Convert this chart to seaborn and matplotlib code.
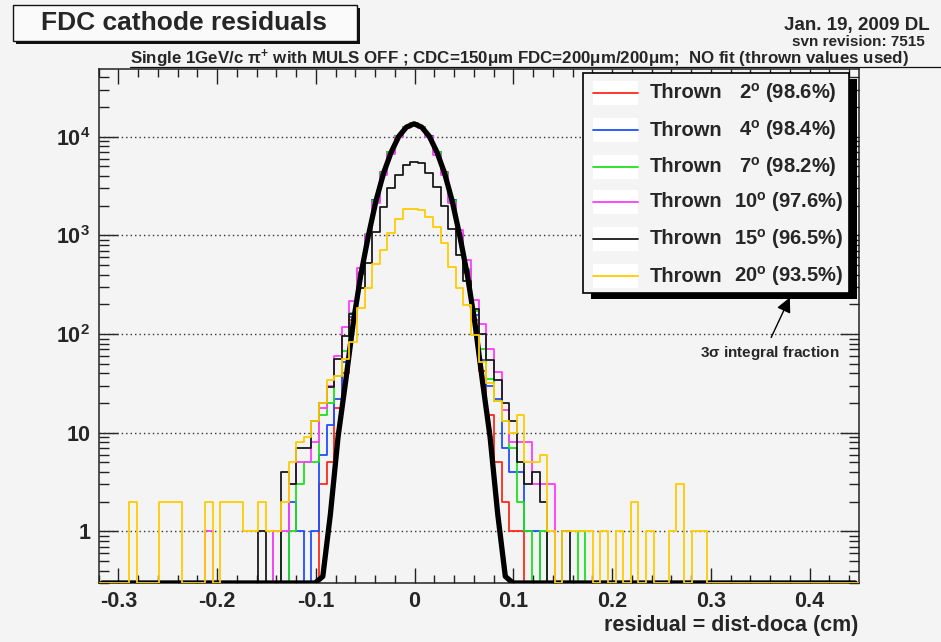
import numpy as np
import pandas as pd
import matplotlib
matplotlib.use("Agg")
import matplotlib.pyplot as plt
import seaborn as sns
from matplotlib.patches import Rectangle
from matplotlib.lines import Line2D
from matplotlib.ticker import FixedLocator, FixedFormatter, LogLocator, NullFormatter, MultipleLocator

# binning of the residual histograms (cm)
x_lo, x_hi, n_bins = -0.32, 0.45, 100

angles = ["2", "4", "7", "10", "15", "20"]
fractions = ["98.6%", "98.4%", "98.2%", "97.6%", "96.5%", "93.5%"]
colors = ["#ff2a1a", "#1f4fff", "#1fe01f", "#ff3cff", "#1a1a1a", "#ffcc00"]

# counts per bin
counts_2 = [0, 0, 0, 0, 0, 0, 0, 0, 0, 0,
            0, 0, 0, 0, 0, 0, 0, 0, 0, 0,
            0, 0, 0, 0, 0, 0, 0, 0, 0, 3,
            5, 18, 40, 140, 410, 1010, 2270, 4350, 7050, 10150,
            12600, 13600, 12600, 10150, 7050, 4350, 2270, 1010, 420, 140,
            42, 15, 5, 2, 1, 1, 0, 0, 0, 0,
            0, 0, 0, 0, 0, 0, 0, 0, 0, 0,
            0, 0, 0, 0, 0, 0, 0, 0, 0, 0,
            0, 0, 0, 0, 0, 0, 0, 0, 0, 0,
            0, 0, 0, 0, 0, 0, 0, 0, 0, 0]
counts_4 = [0, 0, 0, 0, 0, 0, 0, 0, 0, 0,
            0, 0, 0, 0, 0, 0, 0, 0, 0, 0,
            0, 0, 0, 0, 0, 2, 1, 0, 1, 6,
            12, 22, 52, 150, 420, 1020, 2260, 4320, 7000, 10200,
            12650, 13550, 12500, 10100, 7000, 4300, 2280, 1030, 440, 155,
            55, 30, 22, 7, 4, 4, 1, 1, 0, 0,
            0, 0, 0, 0, 0, 0, 0, 0, 0, 0,
            0, 0, 0, 0, 0, 0, 0, 0, 0, 0,
            0, 0, 0, 0, 0, 0, 0, 0, 0, 0,
            0, 0, 0, 0, 0, 0, 0, 0, 0, 0]
counts_7 = [0, 0, 0, 0, 0, 0, 0, 0, 0, 0,
            0, 0, 0, 0, 0, 0, 0, 0, 0, 0,
            0, 0, 0, 1, 0, 1, 3, 5, 5, 15,
            20, 38, 68, 165, 430, 1030, 2240, 4280, 6950, 10050,
            12450, 13400, 12450, 10000, 6950, 4250, 2250, 1040, 460, 170,
            70, 35, 21, 13, 7, 2, 1, 0, 1, 0,
            0, 0, 0, 1, 0, 0, 0, 0, 0, 0,
            0, 0, 0, 0, 0, 0, 0, 0, 0, 0,
            0, 0, 0, 0, 0, 0, 0, 0, 0, 0,
            0, 0, 0, 0, 0, 0, 0, 0, 0, 0]
counts_10 = [0, 0, 0, 0, 0, 0, 0, 0, 0, 0,
             0, 0, 0, 0, 1, 0, 0, 0, 0, 0,
             0, 0, 0, 1, 1, 3, 5, 5, 8, 18,
             30, 60, 117, 214, 465, 1005, 2110, 4100, 6650, 9840,
             12240, 13300, 12240, 9840, 6550, 4100, 2110, 1130, 558, 219,
             127, 70, 41, 17, 8, 8, 8, 3, 3, 3,
             0, 0, 0, 0, 0, 0, 0, 0, 0, 0,
             0, 0, 0, 0, 0, 0, 0, 0, 0, 0,
             0, 0, 0, 0, 0, 0, 0, 0, 0, 0,
             0, 0, 0, 0, 0, 0, 0, 0, 0, 0]
counts_15 = [0, 0, 0, 0, 0, 0, 0, 0, 0, 0,
             0, 0, 0, 0, 0, 0, 0, 0, 0, 0,
             0, 1, 0, 0, 4, 3, 7, 7, 13, 20,
             29, 56, 95, 160, 290, 526, 1087, 1955, 3000, 4100,
             5180, 5600, 5400, 4270, 3120, 2000, 1155, 638, 342, 180,
             100, 55, 34, 20, 13, 5, 3, 4, 2, 0,
             0, 1, 0, 0, 0, 0, 0, 0, 0, 0,
             0, 0, 0, 0, 0, 0, 0, 0, 0, 0,
             0, 0, 0, 0, 0, 0, 0, 0, 0, 0,
             0, 0, 0, 0, 0, 0, 0, 0, 0, 0]
counts_20 = [0, 0, 0, 0, 2, 0, 0, 0, 2, 2,
             2, 0, 0, 0, 2, 0, 2, 2, 2, 1,
             1, 2, 1, 1, 2, 5, 8, 9, 13, 20,
             34, 38, 56, 84, 185, 290, 517, 706, 1045, 1460,
             1846, 1850, 1800, 1545, 1222, 840, 479, 292, 198, 98,
             52, 32, 21, 13, 10, 15, 5, 5, 6, 1,
             0, 1, 1, 1, 1, 0, 1, 0, 1, 0,
             2, 0, 1, 0, 0, 1, 3, 0, 1, 1,
             0, 0, 0, 0, 0, 0, 0, 0, 0, 0,
             0, 0, 0, 0, 0, 0, 0, 0, 0, 0]
# thick black curve drawn through the bin centres
thick_curve = [0, 0, 0, 0, 0, 0, 0, 0, 0, 0,
               0, 0, 0, 0, 0, 0, 0, 0, 0, 0,
               0, 0, 0, 0, 0, 0, 0, 0, 0, 0.35,
               1.5, 9, 33, 130, 400, 1000, 2250, 4300, 7000, 10100,
               12500, 13500, 12500, 10100, 7000, 4300, 2250, 1000, 400, 130,
               33, 9, 1.5, 0.35, 0, 0, 0, 0, 0, 0,
               0, 0, 0, 0, 0, 0, 0, 0, 0, 0,
               0, 0, 0, 0, 0, 0, 0, 0, 0, 0,
               0, 0, 0, 0, 0, 0, 0, 0, 0, 0,
               0, 0, 0, 0, 0, 0, 0, 0, 0, 0]

all_counts = [counts_2, counts_4, counts_7, counts_10, counts_15, counts_20]

y_lo, y_hi = 0.3, 4.85e4
edges = np.linspace(x_lo, x_hi, n_bins + 1)
centers = 0.5 * (edges[:-1] + edges[1:])

bg = "#f4f4f4"
sns.set_theme(style="ticks")
plt.rcParams["font.family"] = ["Liberation Sans", "DejaVu Sans"]
plt.rcParams["font.weight"] = "bold"
plt.rcParams["mathtext.fontset"] = "custom"
plt.rcParams["mathtext.rm"] = "Liberation Sans:bold"
plt.rcParams["mathtext.it"] = "Liberation Sans:bold"
plt.rcParams["mathtext.bf"] = "Liberation Sans:bold"

W, H = 941, 642
fig = plt.figure(figsize=(W / 100, H / 100), dpi=100, facecolor=bg)


def fx(x):
    return x / W


def fy(y):
    return 1 - y / H


ax = fig.add_axes([fx(98.5), fy(583), fx(858.9) - fx(98.5), fy(69) - fy(583)])
ax.set_facecolor(bg)


def draw_hist(counts, color, z):
    df = pd.DataFrame({"x": centers, "w": np.clip(np.asarray(counts, float), y_lo, None)})
    sns.histplot(data=df, x="x", weights="w", bins=list(edges), element="step",
                 fill=False, color=color, linewidth=1.3, ax=ax, zorder=z)


# histograms (empty bins drawn on the bottom edge, as in ROOT)
for k in range(5):
    draw_hist(all_counts[k], colors[k], 3)
sns.lineplot(x=centers, y=np.clip(np.asarray(thick_curve, float), y_lo, None), color="black",
             linewidth=3.8, ax=ax, zorder=4)
draw_hist(counts_20, colors[5], 5)

ax.set_yscale("log")
ax.set_xlim(x_lo, x_hi)
ax.set_ylim(y_lo, y_hi)
ax.set_xlabel("")
ax.set_ylabel("")

ax.xaxis.set_minor_locator(MultipleLocator(0.02))
ax.set_xticks([-0.3, -0.2, -0.1, 0, 0.1, 0.2, 0.3, 0.4])
ax.set_xticklabels(["-0.3", "-0.2", "-0.1", "0", "0.1", "0.2", "0.3", "0.4"])
ax.yaxis.set_major_locator(FixedLocator([1, 10, 100, 1000, 10000]))
ax.yaxis.set_major_formatter(FixedFormatter(["1", "10", "$10^{2}$", "$10^{3}$", "$10^{4}$"]))
ax.yaxis.set_minor_locator(LogLocator(base=10, subs=np.arange(2, 10), numticks=20))
ax.yaxis.set_minor_formatter(NullFormatter())

ax.tick_params(axis="both", which="both", direction="in", top=True, right=True,
               width=1.0, color="#222222")
ax.tick_params(axis="x", which="major", length=11, labelsize=15.5, pad=6)
ax.tick_params(axis="x", which="minor", length=5.5)
ax.tick_params(axis="y", which="major", length=14, labelsize=15.5, pad=6)
ax.tick_params(axis="y", which="minor", length=7)
for lab in ax.get_xticklabels() + ax.get_yticklabels():
    lab.set_fontweight("bold")
for sp in ax.spines.values():
    sp.set_color("#222222")
    sp.set_linewidth(1.1)

# dotted grid at the decades
for yv in [1, 10, 100, 1000, 10000]:
    ax.axhline(yv, color="#333333", linestyle=(0, (1, 2.2)), linewidth=1.0, zorder=1)

fig.text(fx(858), fy(625), "residual = dist-doca (cm)", ha="right", va="center",
         fontsize=15.5, fontweight="bold")

# title box with shadow
fig.add_artist(Rectangle((fx(16), fy(44)), fx(357) - fx(13), fy(5) - fy(41),
                         transform=fig.transFigure, facecolor="#111111", edgecolor="none"))
fig.add_artist(Rectangle((fx(13), fy(41)), fx(357) - fx(13), fy(5) - fy(41),
                         transform=fig.transFigure, facecolor="#fafafa", edgecolor="#111111",
                         linewidth=1.0))
fig.text(fx(184), fy(23), "FDC cathode residuals", ha="center", va="center",
         fontsize=19, fontweight="bold")

fig.text(fx(784), fy(25.5), "Jan. 19, 2009 DL", ha="left", va="center", fontsize=13.5,
         fontweight="bold")
fig.text(fx(792), fy(41.5), "svn revision: 7515", ha="left", va="center", fontsize=11,
         fontweight="bold")
fig.text(fx(130), fy(58.5),
         r"Single 1GeV/c $\pi^{+}$ with MULS OFF ; CDC=150μm FDC=200μm/200μm;  NO fit (thrown values used)",
         ha="left", va="center", fontsize=12.2, fontweight="bold")
fig.add_artist(Line2D([fx(130), fx(941)], [fy(66.5), fy(66.5)], transform=fig.transFigure,
                      color="#111111", linewidth=0.9))

# legend with ROOT-like shadow
fig.add_artist(Rectangle((fx(591), fy(299)), fx(857) - fx(591), fy(79) - fy(299),
                         transform=fig.transFigure, facecolor="black", edgecolor="none", zorder=5))
fig.add_artist(Rectangle((fx(583), fy(293)), fx(849) - fx(583), fy(73) - fy(293),
                         transform=fig.transFigure, facecolor=bg, edgecolor="black",
                         linewidth=1.2, zorder=6))
entry_y = [93, 130, 167, 202, 239, 276]
for k in range(6):
    yc = entry_y[k]
    fig.add_artist(Rectangle((fx(593), fy(yc + 12)), fx(638) - fx(593), fy(yc - 12) - fy(yc + 12),
                             transform=fig.transFigure, facecolor="white", edgecolor="none",
                             zorder=7))
    fig.add_artist(Line2D([fx(593), fx(638)], [fy(yc), fy(yc)], transform=fig.transFigure,
                          color=colors[k], linewidth=1.3, zorder=8))
    fig.text(fx(650), fy(yc), "Thrown", ha="left", va="center", fontsize=14.5,
             fontweight="bold", zorder=8)
    x_num = 739 if len(angles[k]) == 1 else 734
    fig.text(fx(x_num), fy(yc), angles[k] + "$^{o}$ (" + fractions[k] + ")",
             ha="left", va="center", fontsize=14.5, fontweight="bold", zorder=8)

ax.annotate("", xy=(fx(791), fy(295)), xycoords="figure fraction",
            xytext=(fx(770), fy(340)), textcoords="figure fraction",
            arrowprops=dict(arrowstyle="-|>", color="black", lw=1.0, mutation_scale=22))
fig.text(fx(770), fy(353), r"3$\sigma$ integral fraction", ha="center", va="center",
         fontsize=11, fontweight="bold")

fig.savefig("out.png", dpi=100, facecolor=bg)
